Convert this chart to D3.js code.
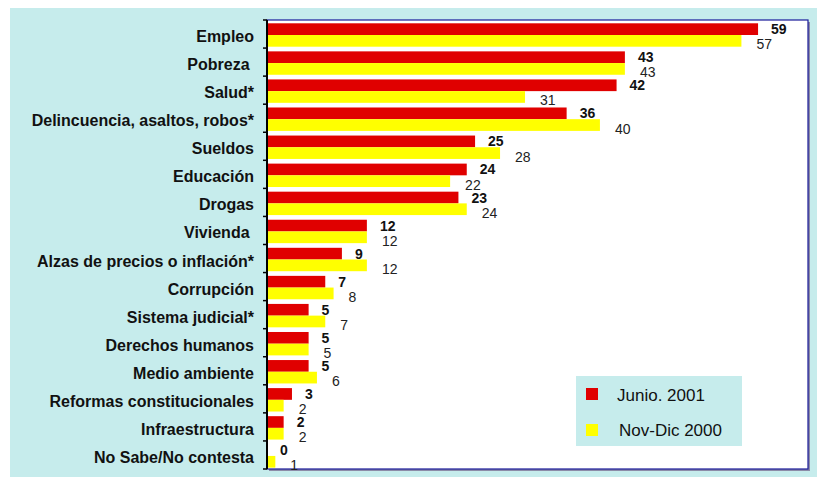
<!DOCTYPE html>
<html><head><meta charset="utf-8">
<script src="https://cdn.jsdelivr.net/npm/d3@7"></script>
<style>body{margin:0;background:#fff}svg{display:block}text{font-family:Arial,"Liberation Sans",sans-serif}</style>
</head><body><svg id="c" width="817" height="477"></svg>
<script>
const categories = ["Empleo","Pobreza ","Salud*","Delincuencia, asaltos, robos*","Sueldos","Educación","Drogas","Vivienda ","Alzas de precios o inflación*","Corrupción","Sistema judicial*","Derechos humanos","Medio ambiente","Reformas constitucionales","Infraestructura","No Sabe/No contesta"];
const junio2001 = [59,43,42,36,25,24,23,12,9,7,5,5,5,3,2,0];
const novDic2000 = [57,43,31,40,28,22,24,12,12,8,7,5,6,2,2,1];
const seriesNames = ["Junio. 2001","Nov-Dic 2000"];
const colors = ["#E00000","#FFFF00"];

const svg = d3.select("#c");
const L = 267, R = 808, T = 20, B = 469;
svg.append("rect").attr("x",10).attr("y",8).attr("width",807).attr("height",469).attr("fill","#C6ECEC");
// shadow
svg.append("rect").attr("x",L+2).attr("y",T+2).attr("width",R-L).attr("height",B-T).attr("fill","#8C8CA8");
svg.append("rect").attr("x",L).attr("y",T).attr("width",R-L).attr("height",B-T).attr("fill","#fff").attr("stroke","#1A1A9A").attr("stroke-width",1.2);

const x = d3.scaleLinear().domain([0,65]).range([L,R]);
const y = d3.scaleBand().domain(categories).range([T,B]);
const bw = y.bandwidth();
const barH = 11.7, off = 3.3;

const g = svg.append("g");
categories.forEach((c,i)=>{
  const y0 = y(c);
  g.append("rect").attr("x",x(0)).attr("y",y0+off).attr("width",x(junio2001[i])-x(0)).attr("height",barH).attr("fill",colors[0]);
  g.append("rect").attr("x",x(0)).attr("y",y0+off+barH).attr("width",x(novDic2000[i])-x(0)).attr("height",barH).attr("fill",colors[1]);
  g.append("text").attr("x",x(junio2001[i])+13).attr("y",y0+off+barH/2+5).attr("font-size",14).attr("font-weight","bold").attr("fill","#111").text(junio2001[i]);
  g.append("text").attr("x",x(novDic2000[i])+15).attr("y",y0+off+barH*1.5+8.5).attr("font-size",14).attr("fill","#222").text(novDic2000[i]);
});

// axis
const ax = svg.append("g").attr("transform",`translate(${L},0)`);
ax.append("line").attr("x1",0).attr("x2",0).attr("y1",T).attr("y2",B).attr("stroke","#000").attr("stroke-width",2);
const ticks = categories.map(c=>y(c)).concat([B]);
ax.selectAll("line.t").data(ticks).join("line").attr("class","t").attr("x1",-4).attr("x2",0).attr("y1",d=>d).attr("y2",d=>d).attr("stroke","#000").attr("stroke-width",1.5);
svg.append("g").selectAll("text").data(categories).join("text")
  .attr("x",254).attr("y",d=>y(d)+bw/2+8).attr("text-anchor","end")
  .attr("font-size",16).attr("font-weight","bold").attr("fill","#111")
  .style("white-space","pre").text(d=>d);

// legend
const lg = svg.append("g");
lg.append("rect").attr("x",576).attr("y",376).attr("width",166).attr("height",70).attr("fill","#C6ECEC");
seriesNames.forEach((n,i)=>{
  lg.append("rect").attr("x",586).attr("y",388+i*36).attr("width",12).attr("height",12).attr("fill",colors[i]);
  lg.append("text").attr("x",617+i*2).attr("y",400.5+i*35.5).attr("font-size",17).attr("fill","#111").text(n);
});
</script></body></html>
